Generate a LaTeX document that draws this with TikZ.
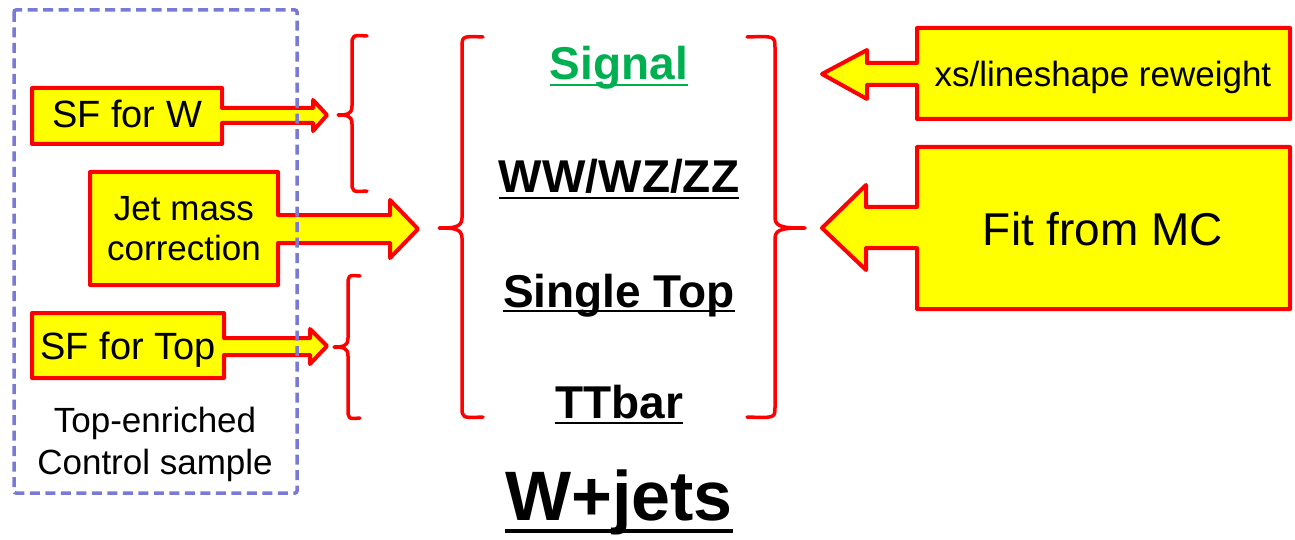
\documentclass[tikz,border=0pt]{standalone}
\usepackage{fontspec}
\setmainfont{Liberation Sans}
\definecolor{calred}{RGB}{255,0,0}
\definecolor{calyellow}{RGB}{255,255,0}
\definecolor{sigreen}{RGB}{0,176,80}
\definecolor{boxblue}{RGB}{122,122,214}
\begin{document}
\begin{tikzpicture}[x=1pt,y=-1pt,
  callout/.style={draw=calred, fill=calyellow, line width=4pt, line join=round},
  bracepath/.style={draw=calred, line width=3.5pt, line cap=round, line join=round},
  lbl/.style={inner sep=0pt, text=black},
  cat/.style={inner sep=0pt, anchor=base, font=\bfseries\fontsize{46}{50}\selectfont},
  uline/.style={line width=2.6pt},
  ctrlbox/.style={draw=boxblue, line width=3.5pt, dash pattern=on 10pt off 5.5pt, rounded corners=2pt}
]
\useasboundingbox (0,0) rectangle (1295,540);

% ---- left callouts
\draw[callout] (32,88) -- (222,88) -- (222,108) -- (313,108) -- (313,100) -- (327,115) -- (313,131) -- (313,123) -- (222,123) -- (222,144) -- (32,144) -- cycle;
\node[lbl, font=\fontsize{38}{42}\selectfont, anchor=base] (sfw) at (127,128) {SF for W};

\draw[callout] (90,172) -- (278,172) -- (278,215) -- (390,215) -- (390,200) -- (418,229) -- (390,258) -- (390,243) -- (278,243) -- (278,285) -- (90,285) -- cycle;
\node[lbl, font=\fontsize{35}{40}\selectfont, align=center] (jmc) at (184,229) {Jet mass\\correction};

\draw[callout] (32,313) -- (224,313) -- (224,338) -- (310,338) -- (310,329) -- (327,346) -- (310,364) -- (310,355) -- (224,355) -- (224,378) -- (32,378) -- cycle;
\node[lbl, font=\fontsize{38}{42}\selectfont, anchor=base] (sft) at (128,359) {SF for Top};

\node[lbl, font=\fontsize{35}{42}\selectfont, align=center] (ctrl) at (155,444) {Top-enriched\\Control sample};

% ---- dashed control-sample box
\draw[ctrlbox] (14,10) rectangle (297,493);

% ---- right callouts
\draw[callout] (1290,28) -- (1290,119) -- (917,119) -- (917,85) -- (867,85) -- (867,99) -- (822,74) -- (867,50) -- (867,63) -- (917,63) -- (917,28) -- cycle;
\node[lbl, font=\fontsize{35}{40}\selectfont, anchor=base] (xs) at (1103,87) {xs/lineshape reweight};

\draw[callout] (1290,147) -- (1290,309) -- (917,309) -- (917,248) -- (866,248) -- (866,270) -- (822,228) -- (866,185) -- (866,207) -- (917,207) -- (917,147) -- cycle;
\node[lbl, font=\fontsize{46}{50}\selectfont, anchor=base] (fit) at (1103,245) {Fit from MC};

% ---- braces
\draw[bracepath] (367,36) .. controls (352,35) .. (352,46) -- (352,106)
  .. controls (352,115) and (346,115) .. (338,115)
  .. controls (346,115) and (352,115) .. (352,124) -- (352,181)
  .. controls (352,192) .. (367,191);
\draw[bracepath] (360,276) .. controls (348,275) .. (348,286) -- (348,338)
  .. controls (348,347) and (342,347) .. (334,347)
  .. controls (342,347) and (348,347) .. (348,356) -- (348,408)
  .. controls (348,419) .. (360,418);
\draw[bracepath] (483,37) .. controls (462,36) .. (462,48) -- (462,218)
  .. controls (462,228) and (452,228) .. (439,228)
  .. controls (452,228) and (462,228) .. (462,238) -- (462,407)
  .. controls (462,418) .. (483,417);
\draw[bracepath] (747,37) .. controls (775,36) .. (775,48) -- (775,218)
  .. controls (775,228) and (787,228) .. (805,228)
  .. controls (787,228) and (775,228) .. (775,238) -- (775,407)
  .. controls (775,418) .. (747,417);

% ---- categories
\node[cat, text=sigreen] (sig) at (619,80) {Signal};
\draw[uline, draw=sigreen] ([yshift=-5pt]sig.base west) -- ([yshift=-5pt]sig.base east);
\node[cat] (vv) at (619,193) {WW/WZ/ZZ};
\draw[uline] ([yshift=-5pt]vv.base west) -- ([yshift=-5pt]vv.base east);
\node[cat] (st) at (619,307) {Single Top};
\draw[uline] ([yshift=-4pt]st.base west) -- ([yshift=-4pt]st.base east);
\node[cat] (tt) at (619,418) {TTbar};
\draw[uline] ([yshift=-5pt]tt.base west) -- ([yshift=-5pt]tt.base east);

\node[inner sep=0pt, anchor=base, font=\bfseries\fontsize{70}{72}\selectfont] (wj) at (619,520) {W+jets};
\draw[line width=3.5pt] ([yshift=-11pt]wj.base west) -- ([yshift=-11pt]wj.base east);
\end{tikzpicture}
\end{document}
